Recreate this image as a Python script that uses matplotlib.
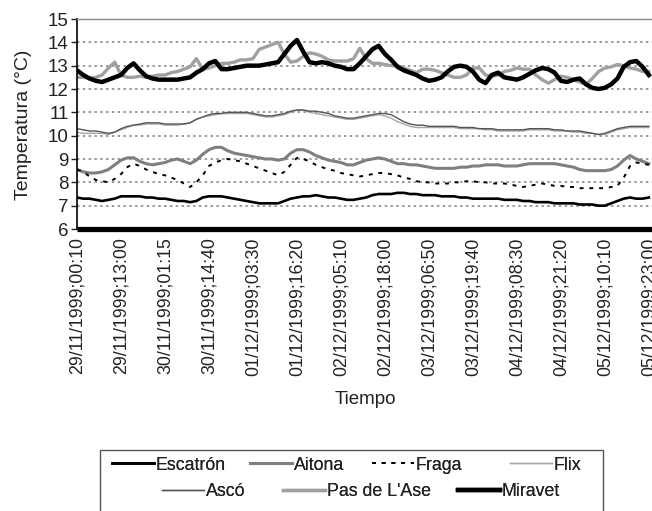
import matplotlib
matplotlib.use("Agg")
import matplotlib.pyplot as plt
from matplotlib.patches import Rectangle

plt.rcParams['font.family'] = ['Liberation Sans', 'DejaVu Sans']
plt.rcParams['text.color'] = '#222222'
plt.rcParams['xtick.color'] = '#222222'
plt.rcParams['ytick.color'] = '#222222'

# temperatura del agua (°C), una muestra cada 11 registros
escatron = [7.35, 7.3, 7.3, 7.25, 7.2, 7.25, 7.3,
            7.4, 7.4, 7.4, 7.4, 7.35, 7.35, 7.3,
            7.3, 7.25, 7.2, 7.2, 7.15, 7.2, 7.35,
            7.4, 7.4, 7.4, 7.35, 7.3, 7.25, 7.2,
            7.15, 7.1, 7.1, 7.1, 7.1, 7.2, 7.3,
            7.35, 7.4, 7.4, 7.45, 7.4, 7.35, 7.35,
            7.3, 7.25, 7.25, 7.3, 7.35, 7.45, 7.5,
            7.5, 7.5, 7.55, 7.55, 7.5, 7.5, 7.45,
            7.45, 7.45, 7.4, 7.4, 7.4, 7.35, 7.35,
            7.3, 7.3, 7.3, 7.3, 7.3, 7.25, 7.25,
            7.25, 7.2, 7.2, 7.15, 7.15, 7.15, 7.1,
            7.1, 7.1, 7.1, 7.05, 7.05, 7.05, 7.0,
            7.0, 7.1, 7.2, 7.3, 7.35, 7.3, 7.3,
            7.35]
aitona = [8.55, 8.45, 8.4, 8.4, 8.45, 8.55, 8.75,
          8.95, 9.05, 9.05, 8.9, 8.8, 8.75, 8.8,
          8.85, 8.95, 9.0, 8.9, 8.8, 8.95, 9.2,
          9.4, 9.5, 9.5, 9.35, 9.25, 9.2, 9.15,
          9.1, 9.05, 9.0, 9.0, 8.95, 9.0, 9.25,
          9.4, 9.4, 9.3, 9.15, 9.05, 8.95, 8.9,
          8.85, 8.75, 8.75, 8.85, 8.95, 9.0, 9.05,
          9.0, 8.9, 8.8, 8.8, 8.75, 8.75, 8.7,
          8.65, 8.6, 8.6, 8.6, 8.6, 8.65, 8.65,
          8.7, 8.7, 8.75, 8.75, 8.75, 8.7, 8.7,
          8.7, 8.75, 8.8, 8.8, 8.8, 8.8, 8.8,
          8.75, 8.7, 8.65, 8.55, 8.5, 8.5, 8.5,
          8.5, 8.55, 8.7, 8.95, 9.15, 9.0, 8.9,
          8.8]
fraga = [8.55, 8.45, 8.25, 8.1, 8.05, 8.0, 8.15,
         8.35, 8.65, 8.8, 8.7, 8.55, 8.45, 8.35,
         8.3, 8.2, 8.1, 7.95, 7.8, 8.0, 8.3,
         8.7, 8.85, 8.95, 9.0, 8.95, 8.9, 8.8,
         8.7, 8.6, 8.5, 8.4, 8.3, 8.45, 8.75,
         9.05, 9.0, 8.9, 8.75, 8.65, 8.55, 8.5,
         8.4, 8.35, 8.3, 8.25, 8.3, 8.35, 8.4,
         8.4, 8.35, 8.3, 8.2, 8.15, 8.05, 8.0,
         8.0, 7.95, 7.95, 7.95, 8.0, 8.0, 8.05,
         8.05, 8.0, 8.0, 7.95, 7.95, 7.95, 7.9,
         7.85, 7.8, 7.85, 7.9, 7.95, 7.9, 7.85,
         7.85, 7.8, 7.8, 7.75, 7.75, 7.75, 7.75,
         7.75, 7.8, 7.85, 8.2, 8.7, 8.85, 8.8,
         8.75]
flix = [10.15, 10.1, 10.1, 10.1, 10.1, 10.05, 10.15,
        10.25, 10.35, 10.45, 10.45, 10.5, 10.5, 10.5,
        10.45, 10.45, 10.45, 10.5, 10.55, 10.7, 10.8,
        10.85, 10.9, 10.95, 10.95, 10.95, 10.95, 10.95,
        10.9, 10.85, 10.8, 10.8, 10.85, 10.9, 11.0,
        11.1, 11.1, 11.0, 10.95, 10.9, 10.85, 10.8,
        10.75, 10.7, 10.7, 10.75, 10.8, 10.85, 10.9,
        10.85, 10.75, 10.6, 10.5, 10.4, 10.35, 10.35,
        10.35, 10.35, 10.35, 10.35, 10.35, 10.3, 10.3,
        10.3, 10.3, 10.25, 10.25, 10.2, 10.2, 10.2,
        10.2, 10.2, 10.25, 10.25, 10.25, 10.25, 10.2,
        10.2, 10.2, 10.15, 10.15, 10.1, 10.1, 10.05,
        10.05, 10.15, 10.25, 10.3, 10.35, 10.35, 10.35,
        10.35]
asco = [10.3, 10.25, 10.2, 10.2, 10.15, 10.1, 10.15,
        10.3, 10.4, 10.45, 10.5, 10.55, 10.55, 10.55,
        10.5, 10.5, 10.5, 10.5, 10.55, 10.7, 10.8,
        10.9, 10.95, 10.95, 11.0, 11.0, 11.0, 11.0,
        10.95, 10.9, 10.85, 10.85, 10.9, 10.95, 11.05,
        11.1, 11.1, 11.05, 11.05, 11.0, 10.95, 10.85,
        10.8, 10.75, 10.75, 10.8, 10.85, 10.9, 10.95,
        10.95, 10.9, 10.75, 10.6, 10.5, 10.45, 10.45,
        10.4, 10.4, 10.4, 10.4, 10.4, 10.35, 10.35,
        10.35, 10.3, 10.3, 10.3, 10.25, 10.25, 10.25,
        10.25, 10.25, 10.3, 10.3, 10.3, 10.3, 10.25,
        10.25, 10.2, 10.2, 10.2, 10.15, 10.1, 10.05,
        10.1, 10.2, 10.3, 10.35, 10.4, 10.4, 10.4,
        10.4]
pas_ase = [12.5, 12.5, 12.45, 12.5, 12.6, 12.9, 13.15,
           12.6, 12.5, 12.5, 12.55, 12.5, 12.55, 12.6,
           12.6, 12.7, 12.75, 12.85, 12.95, 13.3, 12.85,
           12.9, 13.0, 13.1, 13.1, 13.15, 13.25, 13.25,
           13.3, 13.7, 13.8, 13.9, 14.0, 13.5, 13.15,
           13.2, 13.4, 13.55, 13.5, 13.4, 13.25, 13.2,
           13.2, 13.2, 13.3, 13.75, 13.3, 13.1, 13.1,
           13.05, 13.0, 13.0, 12.9, 12.8, 12.7, 12.85,
           12.85, 12.8, 12.7, 12.6, 12.5, 12.5, 12.6,
           12.9, 12.9, 12.6, 12.55, 12.6, 12.75, 12.8,
           12.9, 12.85, 12.85, 12.6, 12.4, 12.25, 12.4,
           12.55, 12.5, 12.4, 12.3, 12.2, 12.45, 12.75,
           12.9, 12.95, 13.05, 13.0, 12.9, 12.85, 12.75,
           12.75]
miravet = [12.8, 12.6, 12.45, 12.35, 12.3, 12.4, 12.5,
           12.6, 12.9, 13.1, 12.8, 12.55, 12.45, 12.4,
           12.4, 12.4, 12.4, 12.45, 12.5, 12.7, 12.85,
           13.1, 13.2, 12.85, 12.85, 12.9, 12.95, 13.0,
           13.0, 13.0, 13.05, 13.1, 13.15, 13.5, 13.85,
           14.1, 13.6, 13.15, 13.1, 13.15, 13.1, 13.0,
           12.95, 12.85, 12.85, 13.1, 13.4, 13.7, 13.85,
           13.5, 13.25, 12.95, 12.8, 12.7, 12.6, 12.45,
           12.35, 12.4, 12.5, 12.75, 12.95, 13.0, 12.95,
           12.75, 12.4, 12.25, 12.6, 12.7, 12.5, 12.45,
           12.4, 12.5, 12.65, 12.8, 12.9, 12.85, 12.7,
           12.35, 12.3, 12.4, 12.45, 12.2, 12.05, 12.0,
           12.05, 12.2, 12.45, 12.95, 13.15, 13.2, 12.95,
           12.6]

tick_labels = ["29/11/1999;00:10", "29/11/1999;13:00", "30/11/1999;01:15",
               "30/11/1999;14:40", "01/12/1999;03:30", "01/12/1999;16:20",
               "02/12/1999;05:10", "02/12/1999;18:00", "03/12/1999;06:50",
               "03/12/1999;19:40", "04/12/1999;08:30", "04/12/1999;21:20",
               "05/12/1999;10:10", "05/12/1999;23:00"]
tick_step = 7

series = [
    ("Escatrón", escatron, dict(color="black", lw=1.9)),
    ("Aitona", aitona, dict(color="#7f7f7f", lw=2.2)),
    ("Fraga", fraga, dict(color="black", lw=1.4, ls=(0, (2, 3)))),
    ("Flix", flix, dict(color="#a6a6a6", lw=1.0)),
    ("Ascó", asco, dict(color="#555555", lw=1.0)),
    ("Pas de L'Ase", pas_ase, dict(color="#a0a0a0", lw=2.4)),
    ("Miravet", miravet, dict(color="black", lw=3.2)),
]

W, H = 652, 511
fig = plt.figure(figsize=(W / 100, H / 100), dpi=100)
ax = fig.add_axes([77 / W, 1 - 229 / H, 575 / W, 210 / H])

for name, vals, style in series:
    ax.plot(range(len(vals)), vals, label=name, solid_joinstyle="round", **style)

ax.set_xlim(0, 91.5)
ax.set_ylim(6, 15)
ax.set_yticks(range(6, 16))
ax.set_xticks(range(0, len(escatron), tick_step))
ax.set_xticklabels(tick_labels, rotation=90, fontsize=12.8)
ax.tick_params(axis="x", length=0, pad=6)
ax.tick_params(axis="y", length=4, width=1, pad=2, labelsize=13.5)

# rejilla punteada
for v in range(7, 15):
    ax.axhline(v, color="#7f7f7f", lw=1.1, ls=(0, (1.6, 2.2)), zorder=0)

ax.spines["right"].set_visible(False)
ax.spines["top"].set_color("#8c8c8c")
ax.spines["top"].set_linewidth(1.0)
ax.spines["left"].set_linewidth(1.2)
ax.spines["bottom"].set_linewidth(3.8)
ax.spines["bottom"].set_capstyle("butt")

fig.text(24 / W, 1 - 125 / H, "Temperatura (°C)", rotation=90,
         ha="center", va="center", fontsize=14)
fig.text(365 / W, 1 - 400 / H, "Tiempo", ha="center", va="center", fontsize=13.5)

# leyenda: cada entrada en su sitio, dos filas dentro de un marco
handles, labels = ax.get_legend_handles_labels()
entry_pos = [(112, 465), (250, 465), (372, 465), (510, 465),
             (162, 492), (283, 492), (458, 492)]
for h, lab, (px, py) in zip(handles, labels, entry_pos):
    leg = fig.legend([h], [lab], loc="center left",
                     bbox_to_anchor=(px / W, 1 - py / H), frameon=False,
                     fontsize=12.8, handlelength=2.35, handletextpad=0.1,
                     borderpad=0, borderaxespad=0)
    fig.add_artist(leg)
fig.add_artist(Rectangle((100 / W, -0.05), 503 / W, 0.05 + 1 - 450 / H,
                         transform=fig.transFigure, fill=False,
                         ec="#555555", lw=1.0))

fig.savefig("out.png", dpi=100)
